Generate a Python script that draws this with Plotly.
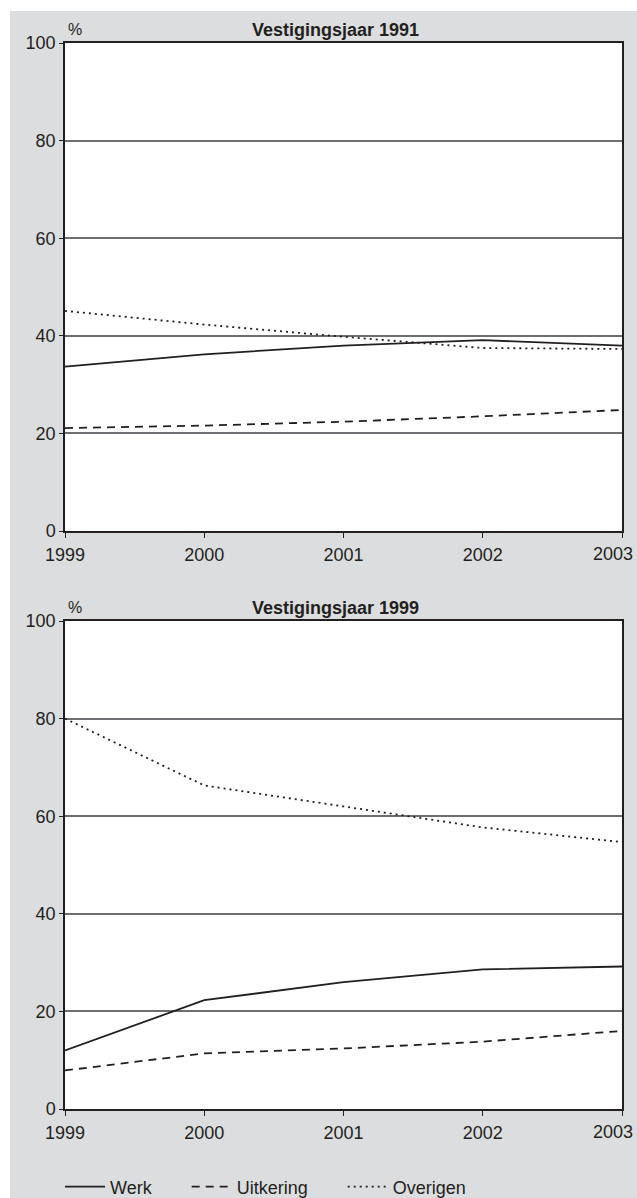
import plotly.graph_objects as go

# jaren op de x-as (het label 2003 staat rechts uitgelijnd, zie onder)
jaren = [1999, 2000, 2001, 2002, 2003]
jaar_labels = ["1999", "2000", "2001", "2002", ""]
laatste_jaar = "2003"

# Vestigingsjaar 1991 (%)
werk_1991 = [33.7, 36.2, 38.0, 39.1, 38.0]
uitkering_1991 = [21.1, 21.6, 22.4, 23.5, 24.8]
overigen_1991 = [45.1, 42.3, 39.8, 37.5, 37.3]

# Vestigingsjaar 1999 (%)
werk_1999 = [12.0, 22.3, 26.0, 28.6, 29.2]
uitkering_1999 = [7.9, 11.4, 12.4, 13.8, 16.0]
overigen_1999 = [80.0, 66.3, 62.0, 57.7, 54.7]

titels = ["Vestigingsjaar 1991", "Vestigingsjaar 1999"]
y_ticks = [0, 20, 40, 60, 80, 100]

W, H = 637, 1198
FONT = "Liberation Sans, Arial, sans-serif"
INK = "#231f20"
GRIJS = "#dcdddf"
PAD = "\u00a0" * 6  # extra ruimte tussen de legenda-items

stijlen = [
    ("Werk", "solid"),
    ("Uitkering", "8px,6px"),
    ("Overigen", "2px,4px"),
]

fig = go.Figure()

panels = [
    (werk_1991, uitkering_1991, overigen_1991),
    (werk_1999, uitkering_1999, overigen_1999),
]

for p, reeksen in enumerate(panels):
    xa = "x" if p == 0 else "x2"
    ya = "y" if p == 0 else "y2"
    for (naam, dash), waarden in zip(stijlen, reeksen):
        fig.add_trace(go.Scatter(
            x=jaren, y=waarden, mode="lines", name=naam + PAD,
            xaxis=xa, yaxis=ya, showlegend=(p == 0),
            line=dict(color=INK, width=1.8, dash=dash),
        ))

# domeinen in paper-coördinaten (pixels omgerekend)
x_dom = [65 / W, 622 / W]
y_dom1 = [(H - 531) / H, (H - 43) / H]
y_dom2 = [(H - 1109) / H, (H - 621) / H]

as_x = dict(
    domain=x_dom, range=[1999, 2003],
    tickvals=jaren, ticktext=jaar_labels,
    ticks="outside", ticklen=5, tickcolor=INK, tickwidth=1,
    ticklabelstandoff=2,
    showgrid=False, zeroline=False, automargin=False,
    ticklabeloverflow="allow",
    showline=True, linecolor=INK, linewidth=1.5, mirror=True,
    tickfont=dict(family=FONT, size=18, color=INK),
)
as_y = dict(
    range=[0, 100], tickvals=y_ticks,
    ticks="outside", ticklen=4, tickcolor=INK, tickwidth=1,
    showgrid=True, gridcolor="#6d6e71", gridwidth=1.5,
    zeroline=False, automargin=False,
    ticklabeloverflow="allow",
    showline=True, linecolor=INK, linewidth=1.5, mirror=True,
    tickfont=dict(family=FONT, size=18, color=INK),
)

fig.update_layout(
    width=W, height=H,
    margin=dict(l=0, r=0, t=0, b=0, autoexpand=False),
    paper_bgcolor=GRIJS,
    plot_bgcolor="white",
    xaxis=dict(as_x, anchor="y"),
    yaxis=dict(as_y, domain=y_dom1, anchor="x"),
    xaxis2=dict(as_x, anchor="y2"),
    yaxis2=dict(as_y, domain=y_dom2, anchor="x2"),
    showlegend=True,
    legend=dict(
        orientation="h", x=60 / W, xanchor="left",
        y=(H - 1187) / H, yanchor="middle",
        bgcolor="rgba(0,0,0,0)",
        font=dict(family=FONT, size=18, color=INK),
        itemwidth=40, tracegroupgap=0,
    ),
)

# witte rand boven en links
fig.add_shape(
    type="rect", xref="paper", yref="paper",
    x0=0, x1=1, y0=(H - 11) / H, y1=1,
    fillcolor="white", line=dict(width=0), layer="below",
)
fig.add_shape(
    type="rect", xref="paper", yref="paper",
    x0=0, x1=10 / W, y0=0, y1=1,
    fillcolor="white", line=dict(width=0), layer="below",
)

for titel, dom in zip(titels, [y_dom1, y_dom2]):
    fig.add_annotation(
        text="<b>" + titel + "</b>", xref="paper", yref="paper",
        x=335 / W, y=dom[1], yshift=13,
        xanchor="center", yanchor="middle", showarrow=False,
        font=dict(family=FONT, size=18, color=INK),
    )
    fig.add_annotation(
        text="%", xref="paper", yref="paper",
        x=x_dom[0], y=dom[1], xshift=1, yshift=13,
        xanchor="left", yanchor="middle", showarrow=False,
        font=dict(family=FONT, size=16, color=INK),
    )
    # laatste jaarlabel, tegen de rechterrand
    fig.add_annotation(
        text=laatste_jaar, xref="paper", yref="paper",
        x=1, y=dom[0], xshift=-2, yshift=-23,
        xanchor="right", yanchor="middle", showarrow=False,
        font=dict(family=FONT, size=18, color=INK),
    )

fig.write_html(
    "out.html",
    config={"displayModeBar": False},
    post_script="document.body.style.margin='0';document.body.style.overflow='hidden';",
)
